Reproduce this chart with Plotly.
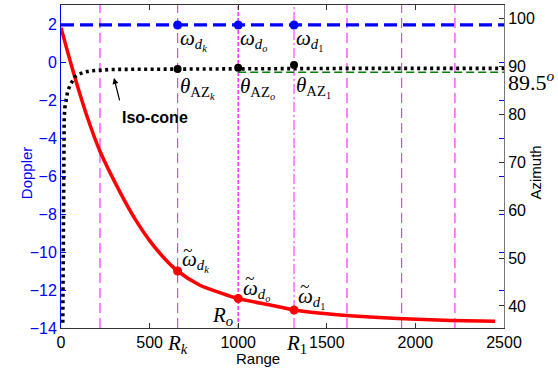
import plotly.graph_objects as go

# ---------------- data ----------------
range_red = [0, 40, 79, 150, 220, 333, 420, 500, 580, 658, 784, 900, 1000,
             1185, 1315, 1500, 1630, 1900, 2200, 2450]
doppler_red = [1.8, 0.45, -0.83, -2.95, -4.7, -6.85, -8.3, -9.4, -10.3, -11.0,
               -11.75, -12.15, -12.45, -12.8, -13.05, -13.25, -13.35, -13.5,
               -13.6, -13.65]

range_iso = [10, 11, 12, 13, 15, 18, 22, 27, 37, 52, 79, 105, 135, 170, 209, 270,
             330, 500, 658, 1000, 1315, 1600, 2000, 2500]
azimuth_iso = [36.5, 50, 62, 70, 76, 79.5, 81.5, 82.8, 84.8, 86.2, 87.9, 88.5,
               88.9, 89.15, 89.3, 89.4, 89.45, 89.5, 89.5, 89.6, 89.6, 89.65,
               89.65, 89.65]

range_blue = [0, 2500]
doppler_blue = [1.95, 1.95]

range_green = [1000, 2500]
azimuth_green = [88.85, 88.85]

ranges_pts = [658, 1000, 1315]          # R_k, R_o, R_1
doppler_pts_blue = [1.95, 1.95, 1.95]
doppler_pts_red = [-11.0, -12.45, -13.05]
azimuth_pts = [89.5, 89.8, 90.35]

vlines_long = [220, 658, 1614, 1922, 2223]
vline_ro = [1000]
vline_r1 = [1315]

x_ticks = [0, 500, 1000, 1500, 2000, 2500]
y_ticks = [-14, -12, -10, -8, -6, -4, -2, 0, 2]
y2_ticks = [40, 50, 60, 70, 80, 90, 100]

fig = go.Figure()

MAG = "#ff33ff"
for xv in vlines_long:
    fig.add_shape(type="line", xref="x", yref="paper", x0=xv, x1=xv, y0=0, y1=1,
                  line=dict(color=MAG, width=1.2, dash="10px,5px"), layer="below")
for xv in vline_ro:
    fig.add_shape(type="line", xref="x", yref="paper", x0=xv, x1=xv, y0=0, y1=1,
                  line=dict(color=MAG, width=1.5, dash="4px,2px"), layer="below")
for xv in vline_r1:
    fig.add_shape(type="line", xref="x", yref="paper", x0=xv, x1=xv, y0=0, y1=1,
                  line=dict(color=MAG, width=1.1, dash="10px,3px,2px,3px"), layer="below")

fig.add_trace(go.Scatter(x=range_blue, y=doppler_blue, mode="lines",
                         line=dict(color="#0000ff", width=3.2, dash="13px,6px"),
                         yaxis="y"))
fig.add_trace(go.Scatter(x=ranges_pts, y=doppler_pts_blue, mode="markers",
                         marker=dict(color="#0000ff", size=9), yaxis="y"))
fig.add_trace(go.Scatter(x=range_red, y=doppler_red, mode="lines",
                         line=dict(color="#ff0000", width=3.5, shape="spline",
                                   smoothing=0.8),
                         yaxis="y"))
fig.add_trace(go.Scatter(x=ranges_pts, y=doppler_pts_red, mode="markers",
                         marker=dict(color="#ff0000", size=9), yaxis="y"))
fig.add_trace(go.Scatter(x=range_green, y=azimuth_green, mode="lines",
                         line=dict(color="#008000", width=1.6, dash="8px,4px"),
                         yaxis="y2"))
fig.add_trace(go.Scatter(x=range_iso, y=azimuth_iso, mode="lines",
                         line=dict(color="#000000", width=3.6, dash="3px,3.5px"),
                         yaxis="y2"))
fig.add_trace(go.Scatter(x=ranges_pts, y=azimuth_pts, mode="markers",
                         marker=dict(color="#000000", size=8), yaxis="y2"))

SERIF = "Liberation Serif"
anns = []

def math(x, y, text, xs=0, ys=0, size=21, xref="x", yref="y", xa="left", ya="middle"):
    anns.append(dict(x=x, y=y, xref=xref, yref=yref, text=text, showarrow=False,
                     xanchor=xa, yanchor=ya, xshift=xs, yshift=ys,
                     font=dict(family=SERIF, size=size, color="black")))

om = "<i>ω</i>"
th = "<i>θ</i>"
math(ranges_pts[0], doppler_pts_blue[0], om + "<sub><i>d</i><sub><i>k</i></sub></sub>", xs=0, ys=-15)
math(ranges_pts[1], doppler_pts_blue[1], om + "<sub><i>d</i><sub><i>o</i></sub></sub>", xs=0, ys=-15)
math(ranges_pts[2], doppler_pts_blue[2], om + "<sub><i>d</i><sub>1</sub></sub>", xs=0, ys=-15)
math(ranges_pts[0], azimuth_pts[0], th + "<sub>AZ<sub><i>k</i></sub></sub>", xs=0, ys=-19, yref="y2")
math(ranges_pts[1], azimuth_pts[1], th + "<sub>AZ<sub><i>o</i></sub></sub>", xs=0, ys=-20, yref="y2")
math(ranges_pts[2], azimuth_pts[2], th + "<sub>AZ<sub>1</sub></sub>", xs=0, ys=-22, yref="y2")

# tilde-omega labels: omega + subscript, with a separate tilde above
red_lbl = [("<sub><i>d</i><sub><i>k</i></sub></sub>", 2, 10),
           ("<sub><i>d</i><sub><i>o</i></sub></sub>", 3, 9),
           ("<sub><i>d</i><sub>1</sub></sub>", 2, 12)]
for (sub, xs, ys), xv, yv in zip(red_lbl, ranges_pts, doppler_pts_red):
    math(xv, yv, om + sub, xs=xs, ys=ys)
    math(xv, yv, "<i>~</i>", xs=xs + 8, ys=ys + 11, size=17, xa="center")

math(ranges_pts[1], doppler_pts_red[1], "<i>R</i><sub><i>o</i></sub>", xs=-3, ys=-17, xa="right")
math(ranges_pts[0], 0, "<i>R</i><sub><i>k</i></sub>", xs=0, ys=-16, yref="paper", xa="center", ya="middle")
math(ranges_pts[2], 0, "<i>R</i><sub>1</sub>", xs=2, ys=-16, yref="paper", xa="center", ya="middle")
math(1.0, 88.85, "89.5<sup><i>o</i></sup>", xs=2, ys=-9, size=22, xref="paper", yref="y2")

# Iso-cone label and arrow
anns.append(dict(x=299, y=87.65, xref="x", yref="y2", text="", showarrow=True,
                 arrowhead=2, arrowsize=1, arrowwidth=1.2, arrowcolor="black",
                 ax=6, ay=24, axref="pixel", ayref="pixel", standoff=0))
anns.append(dict(x=530, y=79.3, xref="x", yref="y2", text="<b>Iso-cone</b>",
                 showarrow=False, xanchor="center", yanchor="middle",
                 font=dict(family="Liberation Sans", size=16, color="black")))

anns.append(dict(x=-0.1, y=0.48, xref="paper", yref="paper", text="Doppler",
                 textangle=-90, showarrow=False,
                 font=dict(family="Liberation Sans", size=15, color="#0000ff")))
anns.append(dict(x=1.095, y=0.48, xref="paper", yref="paper", text="Azimuth",
                 textangle=-90, showarrow=False,
                 font=dict(family="Liberation Sans", size=15, color="black")))
anns.append(dict(x=0.445, y=-0.093, xref="paper", yref="paper", text="Range",
                 showarrow=False, yanchor="middle",
                 font=dict(family="Liberation Sans", size=15, color="black")))

fig.update_layout(
    width=558, height=369,
    margin=dict(l=61, r=54, t=5, b=41),
    plot_bgcolor="white", paper_bgcolor="white",
    showlegend=False,
    font=dict(family="Liberation Sans", size=16, color="black"),
    annotations=anns,
    xaxis=dict(range=[0, 2500], tickvals=x_ticks, ticks="inside", ticklen=5,
               showgrid=False, zeroline=False, showline=True, linecolor="#333333",
               linewidth=1, mirror="ticks", tickcolor="#333333",
               tickfont=dict(size=16, color="black")),
    yaxis=dict(range=[-14, 3], tickvals=y_ticks, ticks="inside", ticklen=5,
               showgrid=False, zeroline=False, showline=True, linecolor="#0000ff",
               linewidth=1, mirror="ticks", tickcolor="#0000ff",
               tickfont=dict(size=16, color="#0000ff")),
    yaxis2=dict(range=[35.4, 102.9], tickvals=y2_ticks, overlaying="y", side="right",
                ticks="inside", ticklen=5, showgrid=False, zeroline=False,
                showline=True, linecolor="#777777", linewidth=1, tickcolor="#333333",
                tickfont=dict(size=16, color="black")),
)

fig.write_html("out.html")
